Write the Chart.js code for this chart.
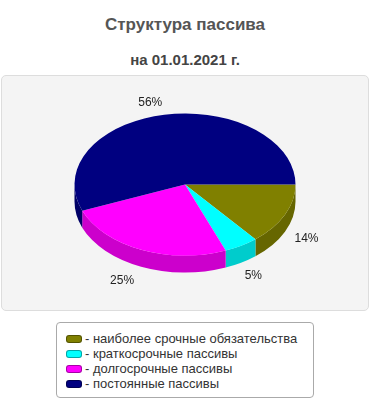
<!DOCTYPE html>
<html lang="ru">
<head>
  <meta charset="UTF-8">
  <title>Структура пассива</title>
  <script src="https://cdn.jsdelivr.net/npm/chart.js"></script>
  <style>
    body {
      margin: 0;
      width: 370px;
      height: 400px;
      background: #fff;
      font-family: "Liberation Sans", Arial, sans-serif;
      position: relative;
      overflow: hidden;
    }
    h1, h2 {
      position: absolute;
      left: 0;
      width: 370px;
      margin: 0;
      text-align: center;
      color: #555;
    }
    h1 { top: 15px; font-size: 17px; }
    h2 { top: 51px; font-size: 15px; color: #444; }
    #panel {
      position: absolute;
      left: 1px;
      top: 75px;
      width: 368px;
      height: 236px;
      box-sizing: border-box;
      background: #f4f4f4;
      border: 1px solid #ddd;
      border-radius: 5px;
    }
    canvas {
      position: absolute;
      left: 0;
      top: 74px;
    }
    #legend {
      position: absolute;
      left: 56px;
      top: 322px;
      width: 258px;
      height: 76px;
      box-sizing: border-box;
      background: #fff;
      border: 1px solid #aaa;
      border-radius: 4px;
      padding: 8px 0 0 9px;
      font-size: 13px;
      color: #333;
    }
    #legend div {
      height: 15px;
      line-height: 15px;
      white-space: nowrap;
    }
    #legend span {
      display: inline-block;
      width: 16px;
      height: 8px;
      box-sizing: border-box;
      border: 1px solid rgba(0, 0, 0, 0.35);
      border-radius: 3px;
      margin-right: 3px;
      vertical-align: 0px;
    }
  </style>
</head>
<body>
  <h1>Структура пассива</h1>
  <h2>на 01.01.2021 г.</h2>
  <div id="panel"></div>
  <canvas id="pieChart" width="370" height="240"></canvas>
  <div id="legend"></div>

  <script>
    const labels = ['наиболее срочные обязательства', 'краткосрочные пассивы', 'долгосрочные пассивы', 'постоянные пассивы'];
    const values = [14, 5, 25, 56];
    const colors = ['#808000', '#00ffff', '#ff00ff', '#000080'];
    const sideColors = ['#666600', '#00cccc', '#cc00cc', '#000066'];

    const YSCALE = 0.643; // сплющиваем круг в эллипс
    const DEPTH = 17;     // толщина "3D" боковины

    // легенда
    const legend = document.getElementById('legend');
    labels.forEach((name, i) => {
      const row = document.createElement('div');
      const sw = document.createElement('span');
      sw.style.background = colors[i];
      row.appendChild(sw);
      row.appendChild(document.createTextNode('- ' + name));
      legend.appendChild(row);
    });

    const total = values.reduce((a, b) => a + b, 0);

    const pie3d = {
      id: 'pie3d',
      beforeDatasetsDraw(chart) {
        const ctx = chart.ctx;
        const arcs = chart.getDatasetMeta(0).data;
        const cx = arcs[0].x, cy = arcs[0].y;
        const rx = arcs[0].outerRadius, ry = rx * YSCALE;

        // боковины (видна только нижняя половина)
        arcs.forEach((a, i) => {
          const s = Math.max(a.startAngle, 0);
          const e = Math.min(a.endAngle, Math.PI);
          if (e <= s) return;
          ctx.beginPath();
          ctx.ellipse(cx, cy, rx, ry, 0, s, e);
          ctx.lineTo(cx + rx * Math.cos(e), cy + ry * Math.sin(e) + DEPTH);
          ctx.ellipse(cx, cy + DEPTH, rx, ry, 0, e, s, true);
          ctx.closePath();
          ctx.fillStyle = sideColors[i];
          ctx.fill();
        });

        ctx.save();
        ctx.translate(cx, cy);
        ctx.scale(1, YSCALE);
        ctx.translate(-cx, -cy);
      },
      afterDatasetsDraw(chart) {
        const ctx = chart.ctx;
        ctx.restore();

        const arcs = chart.getDatasetMeta(0).data;
        ctx.save();
        ctx.font = '12px "Liberation Sans", Arial, sans-serif';
        ctx.fillStyle = '#222';
        ctx.textAlign = 'center';
        ctx.textBaseline = 'middle';
        arcs.forEach((a, i) => {
          const mid = (a.startAngle + a.endAngle) / 2;
          const rx = a.outerRadius * 1.215, ry = a.outerRadius * YSCALE * 1.215;
          const txt = Math.round(values[i] / total * 100) + '%';
          const w = ctx.measureText(txt).width;
          let x = a.x + rx * Math.cos(mid);
          let y = a.y + ry * Math.sin(mid);
          if (Math.sin(mid) > 0) y += DEPTH; else y += 3;
          if (Math.cos(mid) < 0) x -= w * 0.4;
          ctx.fillText(txt, x, y);
        });
        ctx.restore();
      }
    };

    new Chart(document.getElementById('pieChart'), {
      type: 'pie',
      data: {
        labels,
        datasets: [{
          data: values,
          backgroundColor: colors,
          borderWidth: 0
        }]
      },
      options: {
        responsive: false,
        animation: false,
        rotation: 90,
        layout: { padding: { top: 0, bottom: 19, left: 0, right: 0 } },
        plugins: {
          legend: { display: false },
          tooltip: { enabled: false }
        }
      },
      plugins: [pie3d]
    });
  </script>
</body>
</html>
